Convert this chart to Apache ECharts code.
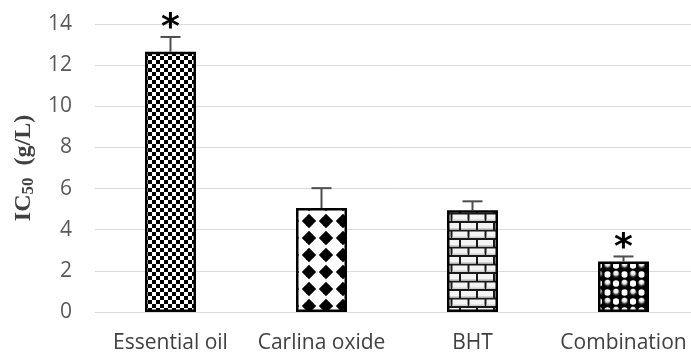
<!DOCTYPE html>
<html>
<head>
<meta charset="utf-8">
<script src="https://cdn.jsdelivr.net/npm/echarts@6/dist/echarts.min.js"></script>
<style>
  html, body { margin: 0; padding: 0; background: #fff; }
  #chart { width: 691px; height: 353px; }
</style>
</head>
<body>
<div id="chart"></div>
<script>
// Samples and their IC50 values (g/L)
const categories = ['Essential oil', 'Carlina oxide', 'BHT', 'Combination'];
const ic50 = [12.65, 5.05, 4.95, 2.45];
const errorTop = [13.37, 6.02, 5.38, 2.7];
const significant = [true, false, false, true];
const yTicks = { min: 0, max: 14, interval: 2 };

// Fill patterns drawn on small tiles
function tile(w, h, draw) {
  const c = document.createElement('canvas');
  c.width = w; c.height = h;
  draw(c.getContext('2d'), w, h);
  return c;
}

const checker = tile(8, 8, (g, w, h) => {
  g.fillStyle = '#fff'; g.fillRect(0, 0, w, h);
  g.fillStyle = '#000';
  g.fillRect(0, 0, 4, 4); g.fillRect(4, 4, 4, 4);
});

const diamonds = tile(17, 17, (g, w, h) => {
  g.fillStyle = '#fff'; g.fillRect(0, 0, w, h);
  g.fillStyle = '#000';
  for (const dx of [-17, 0, 17]) {
    for (const dy of [-17, 0, 17]) {
      const cx = 3 + dx, cy = 0 + dy;
      g.beginPath();
      g.moveTo(cx, cy - 7.2); g.lineTo(cx + 7.2, cy); g.lineTo(cx, cy + 7.2); g.lineTo(cx - 7.2, cy);
      g.closePath(); g.fill();
    }
  }
});

const bricks = tile(34, 17, (g, w, h) => {
  g.fillStyle = '#1a1a1a'; g.fillRect(0, 0, w, h);
  g.fillStyle = '#f4f4f4';
  const rowH = 8.5;
  [[0, 0], [rowH, 8.5]].forEach(([y, off]) => {
    for (let x = -17 + off; x < w; x += 17) {
      g.fillRect(x + 2, y + 2, 15, rowH - 2);
    }
  });
  g.fillStyle = '#d0d0d0';
  [[0, 0], [rowH, 8.5]].forEach(([y, off]) => {
    for (let x = -17 + off; x < w; x += 17) {
      g.fillRect(x + 2, y + rowH - 1.5, 15, 1.5);
    }
  });
});

const spheres = tile(17, 18, (g, w, h) => {
  g.fillStyle = '#000'; g.fillRect(0, 0, w, h);
  const base = [[4, 4.5], [12.5, 13.5]];
  const centres = [];
  base.forEach(([x, y]) => {
    for (const dx of [-17, 0, 17]) for (const dy of [-18, 0, 18]) centres.push([x + dx, y + dy]);
  });
  // white gaps between the balls
  [[12.5, 4.5], [4, 13.5], [-4.5, 13.5], [21, 4.5]].forEach(([x, y]) => {
    g.fillStyle = '#fff';
    g.beginPath(); g.arc(x, y, 3.2, 0, Math.PI * 2); g.fill();
  });
  centres.forEach(([x, y]) => {
    g.fillStyle = '#000';
    g.beginPath(); g.arc(x, y, 5.4, 0, Math.PI * 2); g.fill();
    const grad = g.createRadialGradient(x, y - 2.2, 0.3, x, y - 0.5, 4.2);
    grad.addColorStop(0, '#ffffff');
    grad.addColorStop(0.45, '#e0e0e0');
    grad.addColorStop(0.75, '#3a3a3a');
    grad.addColorStop(1, '#000');
    g.fillStyle = grad;
    g.beginPath(); g.arc(x, y, 4.2, 0, Math.PI * 2); g.fill();
  });
});

const fills = [checker, diamonds, bricks, spheres];

const chart = echarts.init(document.getElementById('chart'), null, { renderer: 'canvas' });

chart.setOption({
  animation: false,
  backgroundColor: '#fff',
  grid: { left: 95, width: 604, top: 24, bottom: 41, containLabel: false, outerBoundsMode: 'none' },
  xAxis: {
    type: 'category',
    data: categories,
    axisLine: { lineStyle: { color: '#d9d9d9', width: 1 } },
    axisTick: { show: false },
    axisLabel: {
      interval: 0, hideOverlap: false,
      color: '#404040', fontSize: 21, margin: 21,
      fontFamily: '"Open Sans", sans-serif'
    }
  },
  yAxis: {
    type: 'value',
    min: yTicks.min, max: yTicks.max, interval: yTicks.interval,
    axisLine: { show: false },
    axisTick: { show: false },
    splitLine: { lineStyle: { color: '#d9d9d9', width: 1 } },
    axisLabel: {
      color: '#595959', fontSize: 21, margin: 23,
      fontFamily: '"Open Sans", sans-serif'
    },
    name: '{b|IC}{s|50}{b|  (g/L)}',
    nameLocation: 'middle',
    nameRotate: 90,
    nameGap: 57,
    nameTextStyle: {
      rich: {
        b: { fontFamily: '"Liberation Serif", serif', fontWeight: 'bold', fontSize: 24, color: '#404040' },
        s: { fontFamily: '"Liberation Serif", serif', fontWeight: 'bold', fontSize: 17, color: '#404040', padding: [9, 0, 0, 0] }
      }
    }
  },
  series: [
    {
      type: 'bar',
      barWidth: 51,
      data: ic50.map((v, i) => ({
        value: v,
        itemStyle: {
          color: { image: fills[i], repeat: 'repeat' },
          borderColor: '#000',
          borderWidth: 2.5
        }
      })),
      z: 2
    },
    {
      type: 'custom',
      data: categories.map((c, i) => [i, ic50[i], errorTop[i], significant[i] ? 1 : 0]),
      renderItem: (params, api) => {
        const base = api.coord([api.value(0), api.value(1)]);
        const top = api.coord([api.value(0), api.value(2)]);
        const half = 10;
        const children = [
          { type: 'line', shape: { x1: base[0], y1: base[1], x2: top[0], y2: top[1] }, style: { stroke: '#4d4d4d', lineWidth: 2 } },
          { type: 'line', shape: { x1: top[0] - half, y1: top[1], x2: top[0] + half, y2: top[1] }, style: { stroke: '#4d4d4d', lineWidth: 2 } }
        ];
        if (api.value(3)) {
          children.push({
            type: 'text',
            style: {
              text: '*', x: top[0], y: top[1] - 8,
              fontSize: 36, fontWeight: 'bold', fontFamily: '"DejaVu Sans", sans-serif',
              fill: '#000', align: 'center', verticalAlign: 'middle'
            }
          });
        }
        return { type: 'group', children };
      },
      z: 3
    }
  ]
});
</script>
</body>
</html>
